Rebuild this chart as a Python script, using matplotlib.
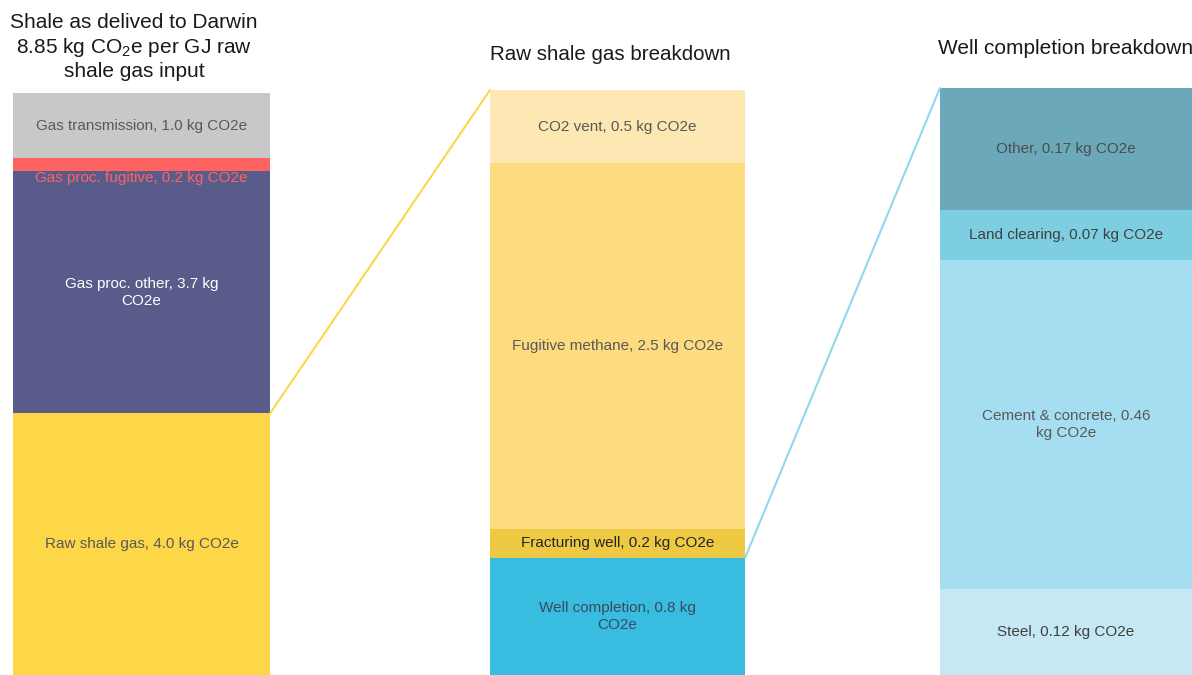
import matplotlib.pyplot as plt
from matplotlib.patches import ConnectionPatch

plt.rcParams['font.family'] = ['Liberation Sans', 'DejaVu Sans']
plt.rcParams['mathtext.fontset'] = 'custom'
plt.rcParams['mathtext.rm'] = 'Liberation Sans'
plt.rcParams['mathtext.it'] = 'Liberation Sans'

# stack 1: shale gas delivered to Darwin (bottom to top)
shale_labels = ["Raw shale gas, 4.0 kg CO2e", "Gas proc. other, 3.7 kg\nCO2e",
                "Gas proc. fugitive, 0.2 kg CO2e", "Gas transmission, 1.0 kg CO2e"]
shale_values = [4.0, 3.7, 0.2, 1.0]
shale_colors = ["#FDD747", "#595C8A", "#FF6361", "#C8C8C8"]
shale_text = ["#595959", "white", "#FF6361", "#595959"]

# stack 2: raw shale gas breakdown
raw_labels = ["Well completion, 0.8 kg\nCO2e", "Fracturing well, 0.2 kg CO2e",
              "Fugitive methane, 2.5 kg CO2e", "CO2 vent, 0.5 kg CO2e"]
raw_values = [0.8, 0.2, 2.5, 0.5]
raw_colors = ["#38BDE1", "#EEC944", "#FDDC80", "#FDE7B2"]
raw_text = ["#3B4A5C", "#262626", "#595959", "#595959"]

# stack 3: well completion breakdown
well_labels = ["Steel, 0.12 kg CO2e", "Cement & concrete, 0.46\nkg CO2e",
               "Land clearing, 0.07 kg CO2e", "Other, 0.17 kg CO2e"]
well_values = [0.12, 0.46, 0.07, 0.17]
well_colors = ["#C6E8F4", "#A4DEF0", "#7ECEE1", "#6AA8BA"]
well_text = ["#404040", "#595959", "#404040", "#4D4D4D"]

W, H = 1192, 675
fig = plt.figure(figsize=(11.92, 6.75), dpi=100)


def stack(left, right, top, values, labels, colors, tcolors, offsets=None):
    ax = fig.add_axes([left / W, 0, (right - left) / W, (H - top) / H])
    bottom = 0
    for i, (v, lab, c, tc) in enumerate(zip(values, labels, colors, tcolors)):
        ax.bar(0, v, width=1, bottom=bottom, color=c, align='edge')
        y = bottom + v / 2
        if offsets and offsets[i]:
            y += offsets[i]
        ax.text(0.5, y, lab, ha='center', va='center', color=tc, fontsize=11,
                linespacing=1.3)
        bottom += v
    ax.set_xlim(0, 1)
    ax.set_ylim(0, sum(values))
    ax.axis('off')
    return ax


ax1 = stack(13, 270, 93, shale_values, shale_labels, shale_colors, shale_text,
            offsets=[0, 0, -0.2, 0])
ax2 = stack(490, 745, 90, raw_values, raw_labels, raw_colors, raw_text)
ax3 = stack(940, 1192, 88, well_values, well_labels, well_colors, well_text)

con1 = ConnectionPatch(xyA=(1, shale_values[0]), coordsA=ax1.transData,
                       xyB=(0, sum(raw_values)), coordsB=ax2.transData,
                       color="#FDD747", lw=1.5)
fig.add_artist(con1)
con2 = ConnectionPatch(xyA=(1, raw_values[0]), coordsA=ax2.transData,
                       xyB=(0, sum(well_values)), coordsB=ax3.transData,
                       color="#8FD8EE", lw=1.5)
fig.add_artist(con2)

fig.text(134 / W, 1 - 47 / H,
         "Shale as delived to Darwin\n8.85 kg CO$_2$e per GJ raw\nshale gas input",
         ha='center', va='center', fontsize=15, color="#1a1a1a", linespacing=1.2)
fig.text(610 / W, 1 - 55 / H, "Raw shale gas breakdown", ha='center', va='center',
         fontsize=14.8, color="#1a1a1a")
fig.text(1066 / W, 1 - 48 / H, "Well completion breakdown", ha='center', va='center',
         fontsize=15, color="#1a1a1a")

fig.savefig("out.png", dpi=100)
